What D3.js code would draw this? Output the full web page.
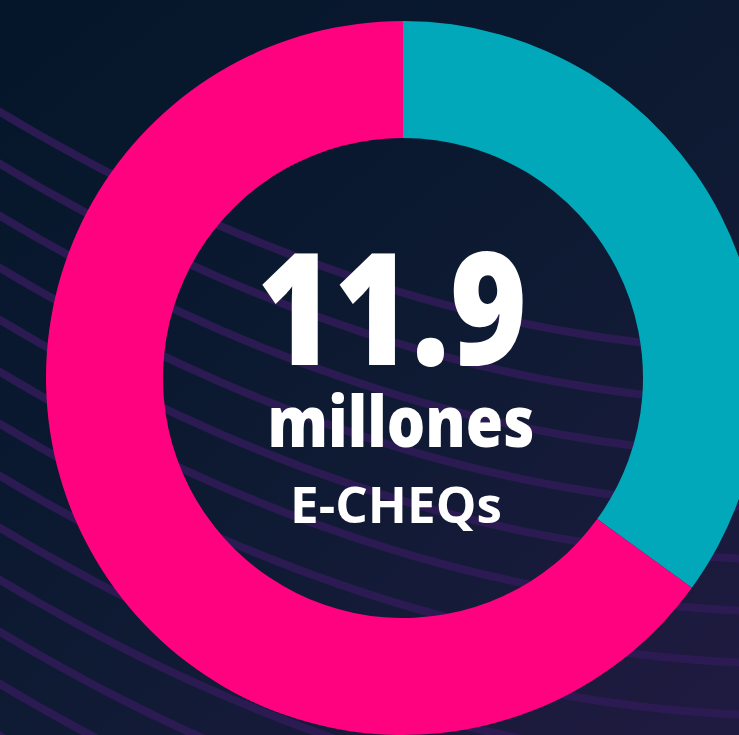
<!DOCTYPE html>
<html><head><meta charset="utf-8">
<script src="https://cdn.jsdelivr.net/npm/d3@7"></script>
<style>html,body{margin:0;padding:0;background:#0b1a30;overflow:hidden}svg{display:block}</style>
</head><body>
<script>
const categories = ["Segmento A", "Segmento B"];
const values = [35, 65];
const colors = ["#00a8ba", "#ff0280"];
const labelBig = "11.9";
const labelMid = "millones";
const labelSmall = "E-CHEQs";

const W = 739, H = 735;
const svg = d3.select("body").append("svg").attr("width", W).attr("height", H);
const defs = svg.append("defs");
const grad = defs.append("linearGradient").attr("id","bg").attr("x1",0.1).attr("y1",0).attr("x2",0.9).attr("y2",1);
grad.append("stop").attr("offset","0%").attr("stop-color","#05162a");
grad.append("stop").attr("offset","50%").attr("stop-color","#0d1a32");
grad.append("stop").attr("offset","100%").attr("stop-color","#1f1a40");
svg.append("rect").attr("width",W).attr("height",H).attr("fill","url(#bg)");

// decorative background waves
const waveG = svg.append("g");
const line = d3.line().curve(d3.curveBasis);
d3.range(0, 15).forEach(i => {
  const y0 = 112 + i * 52;
  const pts = d3.range(-20, 780, 20).map(x => [x, y0 + 0.6 * x - 0.000375 * x * x]);
  waveG.append("path").attr("d", line(pts)).attr("fill","none")
    .attr("stroke","#2d1b54").attr("stroke-width",8).attr("stroke-opacity",0.95);
});

const cx = 403, cy = 378, R = 357, r = 240;
const pie = d3.pie().sort(null).value(d => d);
const arc = d3.arc().innerRadius(r).outerRadius(R);
const g = svg.append("g").attr("transform",`translate(${cx},${cy})`);
g.selectAll("path").data(pie(values)).join("path")
  .attr("d", arc).attr("fill", (d,i) => colors[i]);

const t = svg.append("g").attr("fill","#ffffff").attr("text-anchor","middle")
  .attr("font-family","'Open Sans', sans-serif");
t.append("text").attr("x",392).attr("y",365).attr("font-size",156).attr("font-weight",800)
  .attr("textLength",270).attr("lengthAdjust","spacingAndGlyphs").text(labelBig);
t.append("text").attr("x",401).attr("y",447).attr("font-size",70).attr("font-weight",800)
  .attr("textLength",267).attr("lengthAdjust","spacingAndGlyphs").text(labelMid);
t.append("text").attr("x",396).attr("y",523).attr("font-size",50).attr("font-weight",700)
  .attr("textLength",212).attr("lengthAdjust","spacingAndGlyphs").text(labelSmall);
</script>
</body></html>
